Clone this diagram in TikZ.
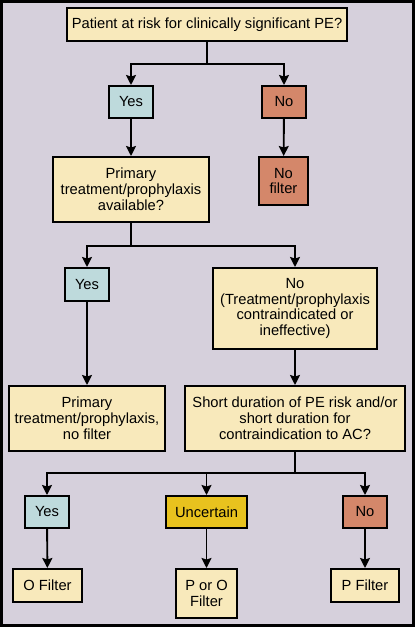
\documentclass[tikz,border=0pt]{standalone}
\usepackage{fontspec}
\setmainfont{Liberation Sans}
\usetikzlibrary{arrows.meta,positioning}
\definecolor{bgcolor}{RGB}{214,208,220}
\definecolor{qcolor}{RGB}{248,233,187}
\definecolor{yescolor}{RGB}{190,218,220}
\definecolor{nocolor}{RGB}{212,135,106}
\definecolor{unccolor}{RGB}{232,194,30}
\tikzset{
  fbox/.style={draw=black, line width=2pt, fill=qcolor, align=center, inner sep=0pt,
    font=\fontsize{14.7}{15.8}\selectfont},
  ybox/.style={fbox, fill=yescolor, minimum width=44pt, minimum height=32pt},
  nbox/.style={fbox, fill=nocolor, minimum width=44pt, minimum height=32pt},
  link/.style={line width=1.9pt, -{Stealth[length=10pt,width=10pt,inset=1.5pt]}},
  plain/.style={line width=1.9pt}
}

\begin{document}
\begin{tikzpicture}[x=1pt, y=-1pt]
  \useasboundingbox (0,0) rectangle (415,627);
  \fill[bgcolor] (0,0) rectangle (415,627);
  \draw[line width=3pt] (1.5,1.5) rectangle (413.5,625.5);

  % first question
  \node[fbox, minimum width=280pt, minimum height=33pt] (risk) at (207,24.5)
    {Patient at risk for clinically significant PE?};
  \node[ybox] (yesA) at (131,102) {Yes};
  \node[nbox] (noA) at (284,102) {No};
  \node[fbox, minimum width=156pt, minimum height=65pt] (avail) at (131,189.5)
    {Primary\\treatment/prophylaxis\\available?};
  \node[nbox, minimum width=49pt, minimum height=48pt] (nofilter) at (283.5,181)
    {No\\filter};

  % second question
  \node[ybox, minimum height=33pt] (yesB) at (87,284.5) {Yes};
  \node[fbox, minimum width=164pt, minimum height=81pt] (noB) at (295,308.5)
    {No\\(Treatment/prophylaxis\\contraindicated or\\ineffective)};
  \node[fbox, minimum width=156pt, minimum height=65pt] (primary) at (87,418.5)
    {Primary\\treatment/prophylaxis,\\no filter};
  \node[fbox, minimum width=220pt, minimum height=65pt] (short) at (295,418.5)
    {Short duration of PE risk and/or\\short duration for\\contraindication to AC?};

  % third question
  \node[ybox] (yesC) at (47,512) {Yes};
  \node[fbox, fill=unccolor, minimum width=81pt, minimum height=32pt] (unsure) at (206.5,512)
    {Uncertain};
  \node[nbox] (noC) at (365,512) {No};
  \node[fbox, minimum width=69pt, minimum height=33pt] (ofilter) at (47.5,585.5) {O Filter};
  \node[fbox, minimum width=61pt, minimum height=49pt] (pofilter) at (206.5,593.5)
    {P or O\\Filter};
  \node[fbox, minimum width=68pt, minimum height=33pt] (pfilter) at (365,585.5) {P Filter};

  \coordinate (splitA) at (207,64);
  \coordinate (splitB) at (131,246);
  \coordinate (splitC) at (295,473);

  \draw[plain] (risk) -- (splitA);
  \draw[link] (splitA) -| (yesA);
  \draw[link] (splitA) -| (noA);
  \draw[link] (yesA) -- (avail);
  \draw[link] (noA) -- (nofilter);

  \draw[plain] (avail) -- (splitB);
  \draw[link] (splitB) -| (yesB);
  \draw[link] (splitB) -| (noB);
  \draw[link] (yesB) -- (primary);
  \draw[link] (noB) -- (short);

  \draw[plain] (short) -- (splitC);
  \draw[link] (splitC) -| (yesC);
  \draw[link] (splitC) -| (unsure);
  \draw[link] (splitC) -| (noC);
  \draw[link] (yesC) -- (ofilter);
  \draw[link] (unsure) -- (pofilter);
  \draw[link] (noC) -- (pfilter);
\end{tikzpicture}
\end{document}
